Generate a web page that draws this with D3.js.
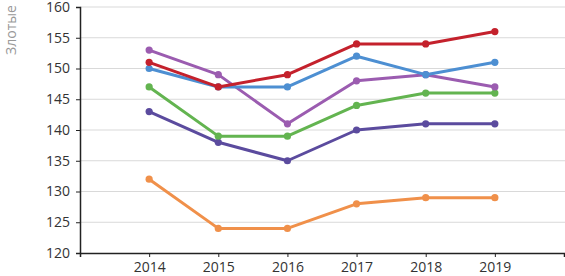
<!DOCTYPE html>
<html>
<head>
<meta charset="utf-8">
<script src="https://cdn.jsdelivr.net/npm/d3@7"></script>
<style>
  body { margin: 0; background: #fff; }
  svg text { font-family: "Open Sans", "Noto Sans", sans-serif; }
</style>
</head>
<body>
<svg id="chart" width="565" height="276"></svg>
<script>
const years = [2014, 2015, 2016, 2017, 2018, 2019];
const yTicks = [120, 125, 130, 135, 140, 145, 150, 155, 160];
const seriesRed = [151, 147, 149, 154, 154, 156];
const seriesBlue = [150, 147, 147, 152, 149, 151];
const seriesViolet = [153, 149, 141, 148, 149, 147];
const seriesGreen = [147, 139, 139, 144, 146, 146];
const seriesIndigo = [143, 138, 135, 140, 141, 141];
const seriesOrange = [132, 124, 124, 128, 129, 129];

// draw order: bottom first
const series = [
  { v: seriesOrange, c: "#f0904a" },
  { v: seriesIndigo, c: "#5b4b9e" },
  { v: seriesGreen, c: "#63b450" },
  { v: seriesViolet, c: "#9b5cb0" },
  { v: seriesBlue, c: "#4d8fd2" },
  { v: seriesRed, c: "#c4212c" },
];

const svg = d3.select("#chart");
const m = { l: 80, r: 0, t: 7, b: 23 };
const W = 565, H = 276;
const x = d3.scaleLinear().domain([2013, 2020]).range([m.l, W - m.r - 1]);
const y = d3.scaleLinear().domain([120, 160]).range([H - m.b, m.t]);

// gridlines
svg.append("g").selectAll("line").data(yTicks.slice(1)).join("line")
  .attr("x1", m.l).attr("x2", W).attr("y1", d => y(d)).attr("y2", d => y(d))
  .attr("stroke", "#d9d9d9").attr("stroke-width", 1);

// y axis
const gy = svg.append("g").attr("transform", `translate(${m.l},0)`)
  .call(d3.axisLeft(y).tickValues(yTicks).tickSize(4).tickPadding(6));
gy.select(".domain").attr("stroke", "#222").attr("stroke-width", 1.5);
gy.selectAll(".tick line").attr("stroke", "#222");
gy.selectAll("text").style("font-size", "14px").attr("fill", "#333");

// x axis
const gx = svg.append("g").attr("transform", `translate(0,${y(120)})`)
  .call(d3.axisBottom(x).tickValues(d3.range(2013, 2021)).tickSize(4).tickPadding(5)
    .tickFormat(d => years.includes(d) ? d : ""));
gx.select(".domain").attr("stroke", "#222").attr("stroke-width", 1.5);
gx.selectAll(".tick line").attr("stroke", "#222");
gx.selectAll("text").style("font-size", "14px").attr("fill", "#333");

// y title
svg.append("text").attr("transform", "translate(11,30) rotate(-90)")
  .attr("text-anchor", "middle").attr("dy", "0.35em")
  .attr("fill", "#999").style("font-size", "14px").text("Злотые");

const line = d3.line().x((d, i) => x(years[i])).y(d => y(d));
series.forEach(s => {
  const g = svg.append("g");
  g.append("path").datum(s.v).attr("d", line).attr("fill", "none")
    .attr("stroke", s.c).attr("stroke-width", 3).attr("stroke-linejoin", "round");
  g.selectAll("circle").data(s.v).join("circle")
    .attr("cx", (d, i) => x(years[i])).attr("cy", d => y(d)).attr("r", 3.6)
    .attr("fill", s.c);
});
</script>
</body>
</html>
